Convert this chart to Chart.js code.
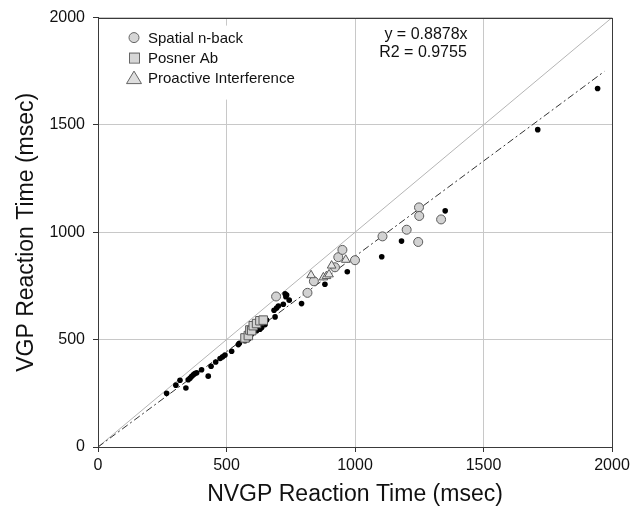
<!DOCTYPE html>
<html>
<head>
<meta charset="utf-8">
<script src="https://cdn.jsdelivr.net/npm/chart.js@4/dist/chart.umd.min.js"></script>
<style>
html,body{margin:0;padding:0;background:#fff;}
#wrap{width:644px;height:511px;}
</style>
</head>
<body>
<div id="wrap"><canvas id="c" width="644" height="511"></canvas></div>
<script>
// ---- data ----
const otherX = [267,303,319,342,351,358,364,371,377,384,403,429,440,458,475,485,494,520,546,550,572,585,598,617,630,637,650,656,689,685,695,702,721,728,731,734,744,792,883,970,1104,1181,1351,1711,1944];
const otherY = [250,288,311,275,313,320,328,336,342,346,360,330,376,396,412,420,428,446,477,483,495,503,526,542,549,557,570,591,606,637,647,657,665,714,700,708,684,668,758,816,886,959,1100,1478,1670];

const nbackX = [693,815,840,922,935,951,1000,1107,1201,1246,1249,1250,1335];
const nbackY = [701,718,772,837,884,918,870,981,1012,955,1116,1076,1060];

const posnerX = [572,585,591,598,604,617,630,643];
const posnerY = [508,519,545,542,565,575,588,591];

const proactX = [829,877,889,899,909,964];
const proactY = [800,790,796,804,845,872];

const identityX = [0,2000];
const identityY = [0,2000];
const fitX = [0,1970];
const fitY = [0,1749];

const tickValues = [0,500,1000,1500,2000];
const legendLabels = ["Spatial n-back","Posner Ab","Proactive Interference"];
const equationLines = ["y = 0.8878x","R2 = 0.9755"];
const xTitle = "NVGP Reaction Time (msec)";
const yTitle = "VGP Reaction Time (msec)";

const pts = (xs, ys) => xs.map((x,i)=>({x:x, y:ys[i]}));
const FONT = "'Liberation Sans', Arial, sans-serif";

const frame = {
  id:'frame',
  afterDraw(chart){
    const {ctx, chartArea:a} = chart;
    ctx.save();
    ctx.strokeStyle = '#3a3a3a';
    ctx.lineWidth = 1;
    ctx.strokeRect(Math.round(a.left)+0.5, Math.round(a.top)+0.5, Math.round(a.right-a.left), Math.round(a.bottom-a.top));
    ctx.restore();
  }
};

const legendPlugin = {
  id:'legendBox',
  beforeDatasetsDraw(chart){
    const {ctx, chartArea:a} = chart;
    ctx.save();
    ctx.fillStyle = '#fff';
    ctx.fillRect(a.left + 8, a.top + 8, 205, 74);
    ctx.restore();
  },
  afterDraw(chart){
    const {ctx, chartArea:a} = chart;
    ctx.save();
    const lx = a.left + 36, ty = a.top + 20, gap = 20;
    ctx.lineWidth = 1;
    ctx.strokeStyle = '#666';
    // circle
    ctx.fillStyle = '#d6d6d6';
    ctx.beginPath(); ctx.arc(lx, ty, 5, 0, Math.PI*2); ctx.fill(); ctx.stroke();
    // square
    ctx.fillStyle = '#d6d6d6';
    ctx.fillRect(lx-5, ty+gap-5, 10, 10); ctx.strokeRect(lx-5+0.5, ty+gap-5+0.5, 10, 10);
    // triangle
    ctx.beginPath();
    ctx.moveTo(lx, ty+2*gap-6.5); ctx.lineTo(lx+7.5, ty+2*gap+6); ctx.lineTo(lx-7.5, ty+2*gap+6); ctx.closePath();
    ctx.fillStyle = '#dedede'; ctx.fill(); ctx.stroke();
    ctx.fillStyle = '#111';
    ctx.font = "15px " + FONT;
    ctx.textBaseline = 'middle';
    ctx.textAlign = 'left';
    legendLabels.forEach((t,i)=>ctx.fillText(t, lx+14, ty + i*gap + 1));
    // equation
    ctx.textAlign = 'center';
    ctx.font = "16px " + FONT;
    ctx.fillText(equationLines[0], 426, 35);
    ctx.fillText(equationLines[1], 423, 53);
    ctx.restore();
  }
};

new Chart(document.getElementById('c'), {
  type:'scatter',
  data:{
    datasets:[
      {type:'line', data:pts(identityX, identityY), borderColor:'#b5b5b5', borderWidth:1, pointRadius:0, fill:false, order:6},
      {type:'line', data:pts(fitX, fitY), borderColor:'#333', borderWidth:1, borderDash:[7,3,2,3], pointRadius:0, fill:false, order:5},
      {data:pts(otherX, otherY), pointRadius:2.8, backgroundColor:'#000', borderColor:'#000', borderWidth:0, order:4},
      {data:pts(nbackX, nbackY), pointRadius:4.5, backgroundColor:'#d2d2d2', borderColor:'#5a5a5a', borderWidth:1, order:3},
      {data:pts(posnerX, posnerY), pointStyle:'rect', pointRadius:6, backgroundColor:'#d2d2d2', borderColor:'#5a5a5a', borderWidth:1, order:2},
      {data:pts(proactX, proactY), pointStyle:'triangle', pointRadius:5, backgroundColor:'#e6e6e6', borderColor:'#5a5a5a', borderWidth:1, order:1}
    ]
  },
  options:{
    responsive:false,
    animation:false,
    devicePixelRatio:1,
    layout:{padding:{left:0, right:32, top:15, bottom:0}},
    plugins:{legend:{display:false}, tooltip:{enabled:false}},
    scales:{
      x:{
        type:'linear', min:0, max:2000,
        afterBuildTicks(s){ s.ticks = tickValues.map(v=>({value:v})); },
        ticks:{color:'#111', font:{size:16, family:FONT}, padding:4, maxRotation:0, callback:(v)=>String(v)},
        grid:{color:'#c8c8c8', tickColor:'#333', tickLength:5},
        border:{display:true, color:'#333'},
        title:{display:true, text:xTitle, color:'#111', font:{size:23, family:FONT}, padding:{top:0, bottom:3}},
        afterFit(s){ s.height = 64; }
      },
      y:{
        type:'linear', min:0, max:2000,
        afterBuildTicks(s){ s.ticks = tickValues.map(v=>({value:v})); },
        ticks:{color:'#111', font:{size:16, family:FONT}, padding:8, callback:(v)=>String(v)},
        grid:{color:'#c8c8c8', tickColor:'#333', tickLength:5},
        border:{display:true, color:'#333'},
        title:{display:true, text:yTitle, color:'#111', font:{size:23, family:FONT}, padding:{top:13, bottom:0}},
        afterFit(s){ s.width = 98; }
      }
    }
  },
  plugins:[frame, legendPlugin]
});
</script>
</body>
</html>
